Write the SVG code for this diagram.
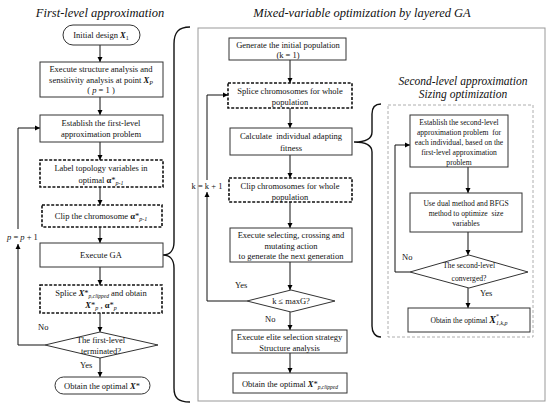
<svg xmlns="http://www.w3.org/2000/svg" width="550" height="407" viewBox="0 0 550 407" font-family="Liberation Serif, Times New Roman, serif">
<defs>
<marker id="ah" markerWidth="6" markerHeight="6" refX="5" refY="3" orient="auto" markerUnits="userSpaceOnUse">
<path d="M0,0.5 L5,3 L0,5.5 Z" fill="#000"/>
</marker>
<style>
text{fill:#111;}
.t{font-size:8.5px;text-anchor:middle;}
.s{font-size:7.6px;text-anchor:middle;}
.ttl{font-size:12.5px;font-style:italic;text-anchor:middle;}
.ttl2{font-size:11.5px;font-style:italic;text-anchor:middle;}
.lbl{font-size:8.5px;}
.box{fill:#fff;stroke:#333;stroke-width:1;}
.dbox{fill:#fff;stroke:#111;stroke-width:1.6;stroke-dasharray:3 1.6;}
.frame{fill:none;stroke:#999;stroke-width:1;}
.dframe{fill:none;stroke:#999;stroke-width:0.8;stroke-dasharray:3 2;}
.c{fill:none;stroke:#111;stroke-width:1;}
.br{fill:none;stroke:#111;stroke-width:1.4;}
.v{font-weight:bold;font-style:italic;}
</style>
</defs>

<!-- Titles -->
<text class="ttl" x="100" y="17">First-level approximation</text>
<text class="ttl" x="362" y="17">Mixed-variable optimization by layered GA</text>
<text class="ttl2" x="463" y="85">Second-level approximation</text>
<text class="ttl2" x="463" y="97.5">Sizing optimization</text>

<!-- Frames -->
<rect class="frame" x="198" y="28" width="347" height="373"/>
<rect class="dframe" x="388" y="105" width="145" height="232"/>

<!-- Connectors -->
<g id="connectors">
<path class="c" d="M100,45 V62" marker-end="url(#ah)"/>
<path class="c" d="M100,97 V115" marker-end="url(#ah)"/>
<path class="c" d="M100,142 V160" marker-end="url(#ah)"/>
<path class="c" d="M100,187 V205" marker-end="url(#ah)"/>
<path class="c" d="M100,227 V243" marker-end="url(#ah)"/>
<path class="c" d="M100,267 V285" marker-end="url(#ah)"/>
<path class="c" d="M100,313 V332" marker-end="url(#ah)"/>
<path class="c" d="M100,358 V377" marker-end="url(#ah)"/>
<path class="c" d="M45,345 H18 V244" marker-end="url(#ah)"/>
<path class="c" d="M18,229 V128 H40" marker-end="url(#ah)"/>

<path class="c" d="M290,60 V83" marker-end="url(#ah)"/>
<path class="c" d="M290,108 V128" marker-end="url(#ah)"/>
<path class="c" d="M290,155 V178" marker-end="url(#ah)"/>
<path class="c" d="M290,202 V228" marker-end="url(#ah)"/>
<path class="c" d="M290,262 V290" marker-end="url(#ah)"/>
<path class="c" d="M290,312 V330" marker-end="url(#ah)"/>
<path class="c" d="M290,353 V373" marker-end="url(#ah)"/>
<path class="c" d="M247,301 H207 V192" marker-end="url(#ah)"/>
<path class="c" d="M207,180 V95 H228" marker-end="url(#ah)"/>

<path class="c" d="M468,167 V193" marker-end="url(#ah)"/>
<path class="c" d="M468,232 V255" marker-end="url(#ah)"/>
<path class="c" d="M468,288 V308" marker-end="url(#ah)"/>
<path class="c" d="M410,272 H395 V145 H410" marker-end="url(#ah)"/>

<!-- Braces -->
<path class="br" d="M190,27 C178,27 174,33 174,44 L174,242 C174,250 170,255 163,255 C170,255 174,260 174,268 L174,388 C174,398 178,402 190,402"/>
<path class="br" d="M381,104 C375,104 372,108 372,114 L372,132 C372,138 366,142 354,142 C366,142 372,146 372,152 L372,326 C372,332 375,337 381,337"/>
</g>

<!-- Connector labels -->
<text class="lbl" x="7" y="240"><tspan font-style="italic">p</tspan> = <tspan font-style="italic">p</tspan> + 1</text>
<text class="lbl" x="38" y="330">No</text>
<text class="lbl" x="80" y="368">Yes</text>
<text class="lbl" x="207" y="189" text-anchor="middle">k = k + 1</text>
<text class="lbl" x="235" y="288">Yes</text>
<text class="lbl" x="265" y="322">No</text>
<text class="lbl" x="402" y="260">No</text>
<text class="lbl" x="480" y="296">Yes</text>

<!-- Left nodes -->
<g id="n-initial">
<rect class="box" x="63" y="25" width="77" height="20" rx="10"/>
<text class="t" x="101" y="38">Initial design <tspan class="v">X</tspan><tspan font-size="6" dy="2">1</tspan></text>
</g>
<g id="n-analysis">
<rect class="box" x="40" y="62" width="123" height="35"/>
<text class="t" x="101" y="72">Execute structure analysis and</text>
<text class="t" x="101" y="82.5">sensitivity analysis at point <tspan class="v">X</tspan><tspan font-size="6" font-style="italic" dy="2">P</tspan></text>
<text class="t" x="101" y="93">( <tspan font-style="italic">p</tspan> = 1 )</text>
</g>
<g id="n-first">
<rect class="box" x="40" y="115" width="123" height="27"/>
<text class="t" x="101" y="126">Establish the first-level</text>
<text class="t" x="101" y="137">approximation problem</text>
</g>
<g id="n-label">
<rect class="dbox" x="40" y="160" width="123" height="27"/>
<text class="t" x="101" y="171">Label topology variables in</text>
<text class="t" x="101" y="183">optimal <tspan font-weight="bold">α</tspan>*<tspan font-size="6" font-style="italic" dy="2">p-1</tspan></text>
</g>
<g id="n-clip">
<rect class="dbox" x="42" y="205" width="120" height="22"/>
<text class="t" x="101" y="219">Clip the chromosome <tspan font-weight="bold">α</tspan>*<tspan font-size="6" font-style="italic" dy="2">p-1</tspan></text>
</g>
<g id="n-ga">
<rect class="box" x="40" y="243" width="123" height="24"/>
<text class="t" x="101" y="258">Execute GA</text>
</g>
<g id="n-splice">
<rect class="dbox" x="40" y="285" width="122" height="28"/>
<text class="t" x="101" y="296">Splice <tspan class="v">X</tspan>*<tspan font-size="5.5" font-style="italic" dy="2">p,clipped</tspan><tspan dy="-2"> and obtain</tspan></text>
<text class="t" x="101" y="308"><tspan class="v">X</tspan>*<tspan font-size="6" font-style="italic" dy="2">p</tspan><tspan dy="-2"> ,  </tspan><tspan font-weight="bold">α</tspan>*<tspan font-size="6" font-style="italic" dy="2">p</tspan></text>
</g>
<g id="n-term">
<polygon class="box" points="100,332 158,345 100,358 45,345"/>
<text class="t" x="101" y="343">The first-level</text>
<text class="t" x="101" y="354">terminated?</text>
</g>
<g id="n-opt">
<rect class="box" x="55" y="377" width="95" height="17" rx="8.5"/>
<text class="t" x="102" y="389">Obtain the optimal <tspan class="v">X</tspan>*</text>
</g>

<!-- Middle nodes -->
<g id="n-gen">
<rect class="box" x="229" y="38" width="117" height="22"/>
<text class="t" x="288" y="47.5">Generate the initial population</text>
<text class="t" x="288" y="57.5">(k = 1)</text>
</g>
<g id="n-splice2">
<rect class="dbox" x="228" y="83" width="124" height="25"/>
<text class="t" x="290" y="93.5">Splice chromosomes for whole</text>
<text class="t" x="290" y="104.5">population</text>
</g>
<g id="n-calc">
<rect class="box" x="230" y="128" width="122" height="27"/>
<text class="t" x="291" y="139" xml:space="preserve">Calculate  individual adapting</text>
<text class="t" x="291" y="150.5">fitness</text>
</g>
<g id="n-clip2">
<rect class="dbox" x="229" y="178" width="123" height="24"/>
<text class="t" x="290" y="188.5">Clip chromosomes for whole</text>
<text class="t" x="290" y="199.5">population</text>
</g>
<g id="n-exec">
<rect class="box" x="230" y="228" width="122" height="34"/>
<text class="t" x="291" y="238">Execute selecting, crossing and</text>
<text class="t" x="291" y="248.5">mutating action</text>
<text class="t" x="291" y="259">to generate the next generation</text>
</g>
<g id="n-maxg">
<polygon class="box" points="291,290 335,301 291,312 247,301"/>
<text class="t" x="291" y="304">k ≤ maxG?</text>
</g>
<g id="n-elite">
<rect class="box" x="232" y="330" width="115" height="23"/>
<text class="t" x="289.5" y="340">Execute elite selection strategy</text>
<text class="t" x="289.5" y="350.5">Structure analysis</text>
</g>
<g id="n-opt2">
<rect class="box" x="233" y="373" width="114" height="20"/>
<text class="t" x="290" y="386.5">Obtain the optimal <tspan class="v">X</tspan>*<tspan font-size="5.5" font-style="italic" dy="2">p,clipped</tspan></text>
</g>

<!-- Right nodes -->
<g id="n-second">
<rect class="box" x="410" y="115" width="98" height="52"/>
<text class="s" x="459" y="125">Establish the second-level</text>
<text class="s" x="459" y="135" xml:space="preserve">approximation problem  for</text>
<text class="s" x="459" y="145">each individual, based on the</text>
<text class="s" x="459" y="155">first-level approximation</text>
<text class="s" x="459" y="165">problem</text>
</g>
<g id="n-dual">
<rect class="box" x="410" y="193" width="112" height="39"/>
<text class="s" x="466" y="206">Use dual method and BFGS</text>
<text class="s" x="466" y="216" xml:space="preserve">method to optimize  size</text>
<text class="s" x="466" y="226">variables</text>
</g>
<g id="n-conv">
<polygon class="box" points="469,255 528,272 469,288 410,272"/>
<text class="s" x="469" y="268">The second-level</text>
<text class="s" x="469" y="281">converged?</text>
</g>
<g id="n-opt3">
<rect class="box" x="408" y="308" width="122" height="24"/>
<text class="s" x="469" y="323">Obtain the optimal  <tspan class="v" font-size="10">X</tspan><tspan font-size="6" dy="-5">*</tspan><tspan font-size="6" font-style="italic" dx="-3" dy="7">1,k,p</tspan></text>
</g>
</svg>
